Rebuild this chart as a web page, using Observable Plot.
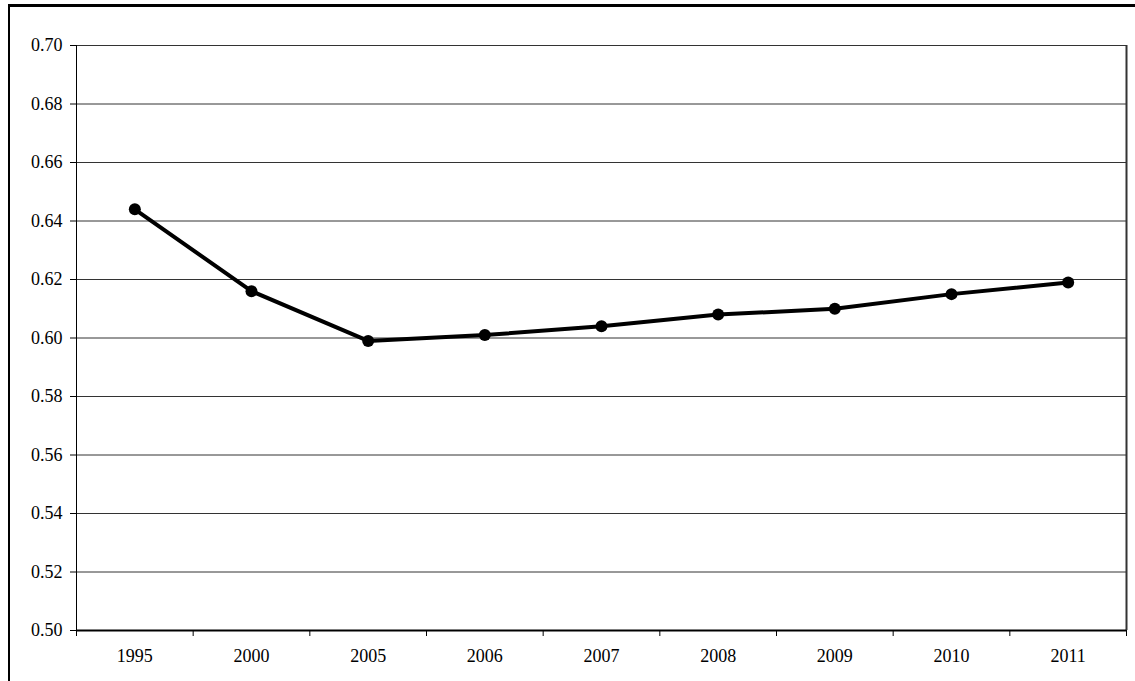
<!DOCTYPE html>
<html>
<head>
<meta charset="utf-8">
<script src="https://cdn.jsdelivr.net/npm/d3@7"></script>
<script src="https://cdn.jsdelivr.net/npm/@observablehq/plot@0.6"></script>
<style>
  html, body { margin: 0; padding: 0; background: #fff; }
  #frame {
    position: absolute;
    left: 8px;
    top: 4px;
    width: 1127px;
    height: 677px;
    border-top: 3px solid #000;
    border-left: 2px solid #000;
    overflow: hidden;
  }
  #frame svg { display: block; }
</style>
</head>
<body>
<div id="frame"></div>
<script>
// Annual index values
const years = ["1995", "2000", "2005", "2006", "2007", "2008", "2009", "2010", "2011"];
const values = [0.644, 0.616, 0.599, 0.601, 0.604, 0.608, 0.610, 0.615, 0.619];
const yTicks = [0.50, 0.52, 0.54, 0.56, 0.58, 0.60, 0.62, 0.64, 0.66, 0.68, 0.70];

const data = years.map((year, i) => ({i, year, value: values[i]}));
// category boundaries, where the small x-axis ticks sit
const bounds = d3.range(years.length + 1).map(k => k - 0.5);

const chart = Plot.plot({
  width: 1125,
  height: 674,
  marginLeft: 66,
  marginRight: 9,
  marginTop: 38,
  marginBottom: 51,
  style: {fontFamily: "'Liberation Serif', 'Times New Roman', serif", fontSize: "18px", color: "#000", background: "#fff"},
  x: {domain: [-0.5, years.length - 0.5]},
  y: {domain: [0.50, 0.70]},
  marks: [
    Plot.gridY(yTicks, {stroke: "#333", strokeOpacity: 1, strokeWidth: 1}),
    Plot.axisY(yTicks, {tickSize: 6, tickPadding: 8, tickFormat: d3.format(".2f"), label: null, stroke: "#000", fontSize: 18}),
    Plot.axisX(data.map(d => d.i), {tickSize: 0, tickPadding: 19, tickFormat: i => years[i], label: null, fontSize: 18}),
    Plot.axisX(bounds, {tickSize: 6, tickFormat: () => "", label: null, stroke: "#000"}),
    Plot.ruleX([-0.5], {stroke: "#000", strokeWidth: 1}),
    Plot.ruleX([years.length - 0.5], {stroke: "#333", strokeWidth: 2}),
    Plot.ruleY([0.50], {stroke: "#000", strokeWidth: 2}),
    Plot.line(data, {x: "i", y: "value", stroke: "#000", strokeWidth: 4}),
    Plot.dot(data, {x: "i", y: "value", r: 6, fill: "#000", stroke: "none"})
  ]
});

document.getElementById("frame").appendChild(chart);
</script>
</body>
</html>
